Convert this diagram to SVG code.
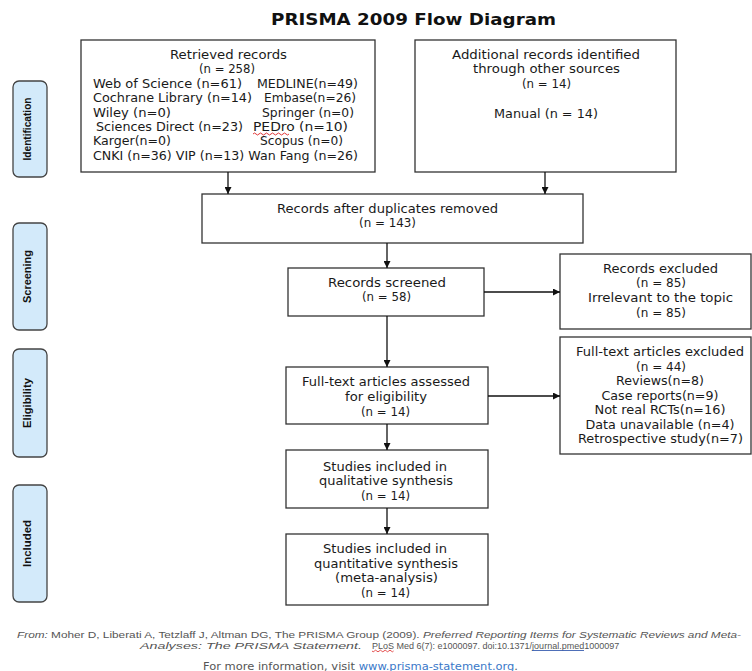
<svg xmlns="http://www.w3.org/2000/svg" width="752" height="671" viewBox="0 0 752 671">
<style>
  .box { fill: #fff; stroke: #333; stroke-width: 1.3; }
  .bar { fill: #d3eafa; stroke: #444; stroke-width: 1.3; }
  .t { font-family: "DejaVu Sans", "Liberation Sans", sans-serif; font-size: 12px; fill: #1a1a1a; }
  .c { text-anchor: middle; }
  .bt { font-family: "Liberation Sans", Arial, sans-serif; font-size: 11.5px; font-weight: bold; fill: #111; text-anchor: middle; }
  .title { font-family: "DejaVu Sans", "Liberation Sans", sans-serif; font-size: 15px; font-weight: bold; fill: #111; text-anchor: middle; }
  .ft { font-family: "Liberation Sans", Arial, sans-serif; font-size: 9px; fill: #555; }
  .more { font-family: "DejaVu Sans", "Liberation Sans", sans-serif; font-size: 10.5px; fill: #555; text-anchor: middle; }
  .conn { stroke: #111; stroke-width: 1.3; fill: none; }
</style>
<defs>
  <marker id="ah" viewBox="0 0 10 10" refX="10" refY="5" markerWidth="7" markerHeight="7" orient="auto" markerUnits="userSpaceOnUse">
    <path d="M0,0 L10,5 L0,10 z" fill="#111"/>
  </marker>
</defs>
<rect width="752" height="671" fill="#fff"/>
<text class="title" x="413.5" y="25" textLength="285" lengthAdjust="spacingAndGlyphs">PRISMA 2009 Flow Diagram</text>

<g id="bar-identification">
  <rect class="bar" x="13" y="81" width="34" height="96" rx="6"/>
  <text class="bt" transform="translate(31,129) rotate(-90)" textLength="63" lengthAdjust="spacingAndGlyphs">Identification</text>
</g>
<g id="bar-screening">
  <rect class="bar" x="13" y="223" width="34" height="107" rx="6"/>
  <text class="bt" transform="translate(31,276.5) rotate(-90)" textLength="53" lengthAdjust="spacingAndGlyphs">Screening</text>
</g>
<g id="bar-eligibility">
  <rect class="bar" x="13" y="349" width="34" height="108" rx="6"/>
  <text class="bt" transform="translate(31,403) rotate(-90)" textLength="50" lengthAdjust="spacingAndGlyphs">Eligibility</text>
</g>
<g id="bar-included">
  <rect class="bar" x="13" y="485" width="34" height="117" rx="6"/>
  <text class="bt" transform="translate(31,543.5) rotate(-90)" textLength="47" lengthAdjust="spacingAndGlyphs">Included</text>
</g>

<g id="retrieved">
  <rect class="box" x="81" y="40" width="294" height="132"/>
  <text class="t c" x="228.5" y="59" textLength="117" lengthAdjust="spacingAndGlyphs">Retrieved records</text>
  <text class="t c" x="227" y="73.4" textLength="56" lengthAdjust="spacingAndGlyphs">(n = 258)</text>
  <text class="t" x="93" y="87.8" textLength="149" lengthAdjust="spacingAndGlyphs">Web of Science (n=61)</text>
  <text class="t" x="257" y="87.8" textLength="101" lengthAdjust="spacingAndGlyphs">MEDLINE(n=49)</text>
  <text class="t" x="93" y="102.2" textLength="159" lengthAdjust="spacingAndGlyphs">Cochrane Library (n=14)</text>
  <text class="t" x="264" y="102.2" textLength="92" lengthAdjust="spacingAndGlyphs">Embase(n=26)</text>
  <text class="t" x="93" y="116.6" textLength="78" lengthAdjust="spacingAndGlyphs">Wiley (n=0)</text>
  <text class="t" x="262" y="116.6" textLength="92" lengthAdjust="spacingAndGlyphs">Springer (n=0)</text>
  <text class="t" x="96" y="131" textLength="147" lengthAdjust="spacingAndGlyphs">Sciences Direct (n=23)</text>
  <text class="t" x="253" y="131" textLength="95" lengthAdjust="spacingAndGlyphs">PEDro (n=10)</text>
  <path d="M253,134 q1.5,-2 3,0 t3,0 t3,0 t3,0 t3,0 t3,0 t3,0 t3,0 t3,0 t3,0 t3,0 t3,0" fill="none" stroke="#d22" stroke-width="0.9"/>
  <text class="t" x="93" y="145.4" textLength="78" lengthAdjust="spacingAndGlyphs">Karger(n=0)</text>
  <text class="t" x="260" y="145.4" textLength="83" lengthAdjust="spacingAndGlyphs">Scopus (n=0)</text>
  <text class="t" x="93" y="159.8" textLength="265" lengthAdjust="spacingAndGlyphs">CNKI (n=36) VIP (n=13) Wan Fang (n=26)</text>
</g>

<g id="additional">
  <rect class="box" x="415" y="40" width="261" height="132"/>
  <text class="t c" x="546" y="58.5" textLength="188" lengthAdjust="spacingAndGlyphs">Additional records identified</text>
  <text class="t c" x="546.5" y="73" textLength="147" lengthAdjust="spacingAndGlyphs">through other sources</text>
  <text class="t c" x="546.5" y="88" textLength="49" lengthAdjust="spacingAndGlyphs">(n = 14)</text>
  <text class="t c" x="546" y="118" textLength="104" lengthAdjust="spacingAndGlyphs">Manual (n = 14)</text>
</g>

<g id="duplicates">
  <rect class="box" x="202" y="194" width="381" height="49"/>
  <text class="t c" x="387.5" y="212.5" textLength="221" lengthAdjust="spacingAndGlyphs">Records after duplicates removed</text>
  <text class="t c" x="387.5" y="227" textLength="57" lengthAdjust="spacingAndGlyphs">(n = 143)</text>
</g>

<g id="screened">
  <rect class="box" x="288" y="268" width="196" height="48"/>
  <text class="t c" x="387" y="286.5" textLength="118" lengthAdjust="spacingAndGlyphs">Records screened</text>
  <text class="t c" x="386.5" y="301" textLength="49" lengthAdjust="spacingAndGlyphs">(n = 58)</text>
</g>

<g id="excluded">
  <rect class="box" x="560" y="254" width="191" height="75"/>
  <text class="t c" x="660.5" y="272.5" textLength="115" lengthAdjust="spacingAndGlyphs">Records excluded</text>
  <text class="t c" x="661" y="287" textLength="50" lengthAdjust="spacingAndGlyphs">(n = 85)</text>
  <text class="t c" x="660.5" y="302" textLength="145" lengthAdjust="spacingAndGlyphs">Irrelevant to the topic</text>
  <text class="t c" x="661" y="317" textLength="50" lengthAdjust="spacingAndGlyphs">(n = 85)</text>
</g>

<g id="fulltext-excluded">
  <rect class="box" x="560" y="337" width="191" height="117"/>
  <text class="t c" x="660" y="356" textLength="168" lengthAdjust="spacingAndGlyphs">Full-text articles excluded</text>
  <text class="t c" x="661" y="370.5" textLength="50" lengthAdjust="spacingAndGlyphs">(n = 44)</text>
  <text class="t c" x="660" y="385" textLength="88" lengthAdjust="spacingAndGlyphs">Reviews(n=8)</text>
  <text class="t c" x="660" y="399.5" textLength="117" lengthAdjust="spacingAndGlyphs">Case reports(n=9)</text>
  <text class="t c" x="660" y="414" textLength="131" lengthAdjust="spacingAndGlyphs">Not real RCTs(n=16)</text>
  <text class="t c" x="660" y="428.5" textLength="149" lengthAdjust="spacingAndGlyphs">Data unavailable (n=4)</text>
  <text class="t c" x="660.5" y="443" textLength="165" lengthAdjust="spacingAndGlyphs">Retrospective study(n=7)</text>
</g>

<g id="assessed">
  <rect class="box" x="286" y="367" width="202" height="57"/>
  <text class="t c" x="386" y="386" textLength="168" lengthAdjust="spacingAndGlyphs">Full-text articles assessed</text>
  <text class="t c" x="386" y="401" textLength="82" lengthAdjust="spacingAndGlyphs">for eligibility</text>
  <text class="t c" x="385.5" y="416" textLength="49" lengthAdjust="spacingAndGlyphs">(n = 14)</text>
</g>

<g id="qualitative">
  <rect class="box" x="286" y="450" width="202" height="58"/>
  <text class="t c" x="385" y="470.5" textLength="124" lengthAdjust="spacingAndGlyphs">Studies included in</text>
  <text class="t c" x="386" y="485" textLength="134" lengthAdjust="spacingAndGlyphs">qualitative synthesis</text>
  <text class="t c" x="385.5" y="499.5" textLength="49" lengthAdjust="spacingAndGlyphs">(n = 14)</text>
</g>

<g id="quantitative">
  <rect class="box" x="286" y="534" width="202" height="71"/>
  <text class="t c" x="385" y="553" textLength="124" lengthAdjust="spacingAndGlyphs">Studies included in</text>
  <text class="t c" x="386" y="567.5" textLength="144" lengthAdjust="spacingAndGlyphs">quantitative synthesis</text>
  <text class="t c" x="386.5" y="582" textLength="103" lengthAdjust="spacingAndGlyphs">(meta-analysis)</text>
  <text class="t c" x="385.5" y="596.5" textLength="49" lengthAdjust="spacingAndGlyphs">(n = 14)</text>
</g>

<g id="connectors">
  <line class="conn" x1="228" y1="172" x2="228" y2="194" marker-end="url(#ah)"/>
  <line class="conn" x1="545" y1="172" x2="545" y2="194" marker-end="url(#ah)"/>
  <line class="conn" x1="387" y1="243" x2="387" y2="268" marker-end="url(#ah)"/>
  <line class="conn" x1="484" y1="292" x2="560" y2="292" marker-end="url(#ah)"/>
  <line class="conn" x1="387" y1="316" x2="387" y2="367" marker-end="url(#ah)"/>
  <line class="conn" x1="488" y1="396" x2="560" y2="396" marker-end="url(#ah)"/>
  <line class="conn" x1="387" y1="424" x2="387" y2="450" marker-end="url(#ah)"/>
  <line class="conn" x1="387" y1="508" x2="387" y2="534" marker-end="url(#ah)"/>
</g>

<g id="footer">
  <text class="ft" x="17" y="638" textLength="724" lengthAdjust="spacingAndGlyphs"><tspan font-style="italic">From:</tspan>  Moher D, Liberati A, Tetzlaff J, Altman DG, The PRISMA Group (2009). <tspan font-style="italic">Preferred Reporting Items for Systematic Reviews and Meta-</tspan></text>
  <text class="ft" x="140" y="648.5" font-style="italic" textLength="222" lengthAdjust="spacingAndGlyphs">Analyses: The PRISMA Statement.</text>
  <text class="ft" x="372" y="648.5">PLoS Med 6(7): e1000097. doi:10.1371/journal.pmed1000097</text>
  <path d="M372,651 q1.2,1.6 2.4,0 t2.4,0 t2.4,0 t2.4,0 t2.4,0 t2.4,0 t2.4,0 t2.4,0 t2.4,0" fill="none" stroke="#d22" stroke-width="0.8"/>
  <line x1="532" y1="650.5" x2="584" y2="650.5" stroke="#3a5fb0" stroke-width="0.9"/>
  <text class="more" x="360.5" y="669.5" textLength="315" lengthAdjust="spacingAndGlyphs">For more information, visit <tspan fill="#3a78c8">www.prisma-statement.org</tspan>.</text>
</g>
</svg>
